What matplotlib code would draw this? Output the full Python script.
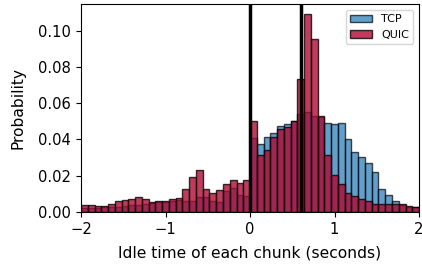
import numpy as np
import matplotlib
matplotlib.use("Agg")
import matplotlib.pyplot as plt

# Histogram bins: 50 bins of 0.08 s from -2 to 2
bin_edges = np.linspace(-2, 2, 51)

tcp_prob = [
    0.0020, 0.0020, 0.0020, 0.0026, 0.0026, 0.0030, 0.0033, 0.0037, 0.0039, 0.0044,
    0.0052, 0.0057, 0.0057, 0.0062, 0.0068, 0.0058, 0.0058, 0.0082, 0.0082, 0.0063,
    0.0055, 0.0118, 0.0131, 0.0091, 0.0086, 0.0406, 0.0373, 0.0414, 0.0434, 0.0473,
    0.0487, 0.0500, 0.0539, 0.0553, 0.0530, 0.0522, 0.0489, 0.0484, 0.0493, 0.0401,
    0.0329, 0.0305, 0.0268, 0.0222, 0.0125, 0.0093, 0.0060, 0.0040, 0.0030, 0.0025,
]

quic_prob = [
    0.0037, 0.0037, 0.0035, 0.0033, 0.0044, 0.0059, 0.0064, 0.0074, 0.0085, 0.0070,
    0.0055, 0.0059, 0.0058, 0.0074, 0.0079, 0.0127, 0.0191, 0.0232, 0.0127, 0.0104,
    0.0120, 0.0153, 0.0179, 0.0159, 0.0177, 0.0500, 0.0314, 0.0340, 0.0412, 0.0456,
    0.0470, 0.0504, 0.0734, 0.1092, 0.0952, 0.0530, 0.0313, 0.0204, 0.0154, 0.0107,
    0.0090, 0.0071, 0.0058, 0.0045, 0.0044, 0.0045, 0.0044, 0.0042, 0.0031, 0.0026,
]

marker_lines = [0.0, 0.6]

fig = plt.figure(figsize=(4.22, 2.68), dpi=100)
ax = fig.add_axes([0.192, 0.209, 0.801, 0.775])

left = bin_edges[:-1]
width = np.diff(bin_edges)
ax.bar(left, tcp_prob, width=width, align="edge", color="#1f77b4", alpha=0.7,
       edgecolor="black", linewidth=1.0, label="TCP")
ax.bar(left, quic_prob, width=width, align="edge", color="#ae0530", alpha=0.78,
       edgecolor="black", linewidth=1.0, label="QUIC")

for x in marker_lines:
    ax.axvline(x, color="black", linewidth=2.5)

ax.set_xlim(-2, 2)
ax.set_ylim(0, 0.1145)
ax.set_xticks([-2, -1, 0, 1, 2])
ax.set_yticks([0, 0.02, 0.04, 0.06, 0.08, 0.10])
ax.set_yticklabels(["0.00", "0.02", "0.04", "0.06", "0.08", "0.10"])
ax.tick_params(labelsize=10.6)
ax.set_xlabel("Idle time of each chunk (seconds)", fontsize=11.2, labelpad=6)
ax.set_ylabel("Probability", fontsize=11.2, labelpad=9)
ax.legend(loc="upper right", fontsize=8)

fig.savefig("out.png", dpi=100)
